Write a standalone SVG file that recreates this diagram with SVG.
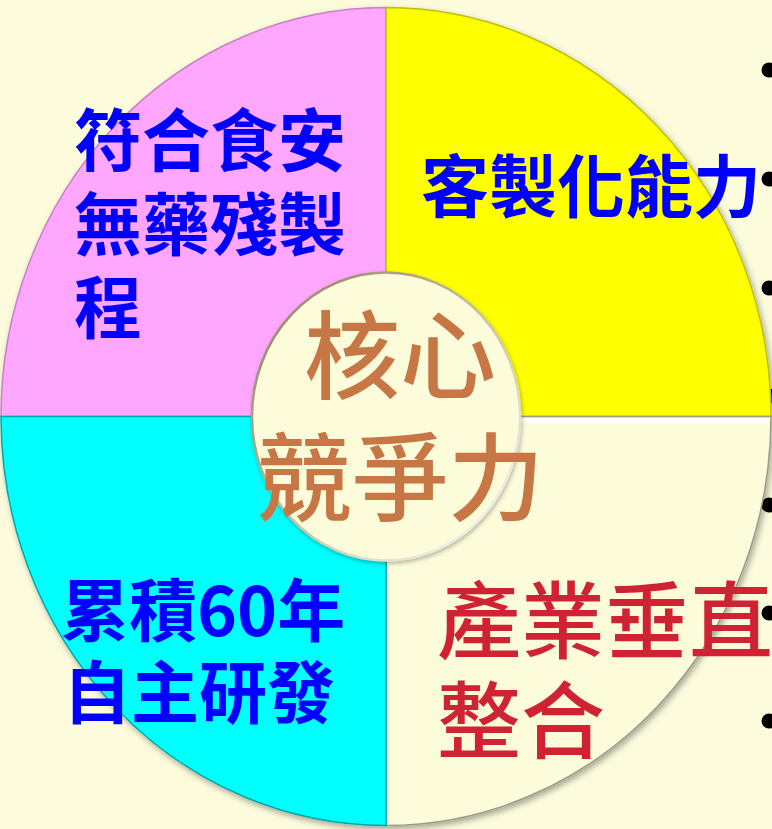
<svg xmlns="http://www.w3.org/2000/svg" width="772" height="829" viewBox="0 0 772 829">
<defs>
<style>
.t{font-family:"Noto Sans CJK TC","Noto Sans CJK JP","Liberation Sans",sans-serif;}
.blue{fill:#0000FF;font-weight:bold;font-size:68px;}
.red{fill:#CF2233;font-size:84px;font-weight:500;}
.core{fill:#C67745;font-size:96px;font-weight:500;}
.bul{fill:#000000;}
</style>
<linearGradient id="rim" x1="0" y1="0" x2="1" y2="1">
<stop offset="0" stop-color="#8a7a5a"/>
<stop offset="0.5" stop-color="#c8c0a0"/>
<stop offset="1" stop-color="#ffffff"/>
</linearGradient>
<filter id="sh" x="-10%" y="-10%" width="120%" height="120%">
<feDropShadow dx="2" dy="3" stdDeviation="3" flood-color="#000" flood-opacity="0.35"/>
</filter>
<filter id="sh2" x="-10%" y="-10%" width="120%" height="120%">
<feDropShadow dx="1" dy="2" stdDeviation="2" flood-color="#000" flood-opacity="0.3"/>
</filter>
</defs>
<rect width="772" height="829" fill="#FCFCDD"/>
<g id="bullets">
<circle class="bul" cx="769" cy="70" r="7.5"/>
<circle class="bul" cx="769" cy="179" r="7.5"/>
<circle class="bul" cx="769" cy="288" r="7.5"/>
<circle class="bul" cx="769" cy="396" r="7.5"/>
<circle class="bul" cx="769" cy="505" r="7.5"/>
<circle class="bul" cx="769" cy="613" r="7.5"/>
<circle class="bul" cx="769" cy="721" r="7.5"/>
</g>
<g id="ring" filter="url(#sh)">
<g id="q-food-safety">
<path d="M386,416.5 L1,416.5 A385 409 0 0 1 386,7.5 Z" fill="#FFA6FF" stroke="#C880C8" stroke-width="1.5"/>
</g>
<g id="q-customization">
<path d="M386,416.5 L386,7.5 A385 409 0 0 1 771,416.5 Z" fill="#FFFF00" stroke="#C0C000" stroke-width="1.5"/>
</g>
<g id="q-integration">
<path d="M386,416.5 L771,416.5 A385 409 0 0 1 386,825.5 Z" fill="#FCFCDA" stroke="#9a9a88" stroke-width="1.5"/>
<path d="M389,421 L768,421" stroke="#ffffff" stroke-width="4"/>
</g>
<g id="q-rnd">
<path d="M386,416.5 L386,825.5 A385 409 0 0 1 1,416.5 Z" fill="#00FFFF" stroke="#00A8A8" stroke-width="1.5"/>
</g>
</g>
<g id="core" filter="url(#sh2)">
<ellipse cx="386" cy="416.5" rx="134" ry="144" fill="#FCFCDA" stroke="url(#rim)" stroke-width="2.5"/>
</g>
<g id="labels" class="t">
<text class="blue" x="74" y="166">符合食安</text>
<text class="blue" x="74" y="250">無藥殘製</text>
<text class="blue" x="74" y="333">程</text>
<text class="blue" x="421" y="212">客製化能力</text>
<text class="blue" x="61" y="636">累積60年</text>
<text class="blue" x="63" y="718">自主研發</text>
<text class="red" x="437" y="652">產業垂直</text>
<text class="red" x="437" y="752">整合</text>
<text class="core" x="400" y="391" text-anchor="middle">核心</text>
<text class="core" x="400" y="513" text-anchor="middle">競爭力</text>
</g>
</svg>
